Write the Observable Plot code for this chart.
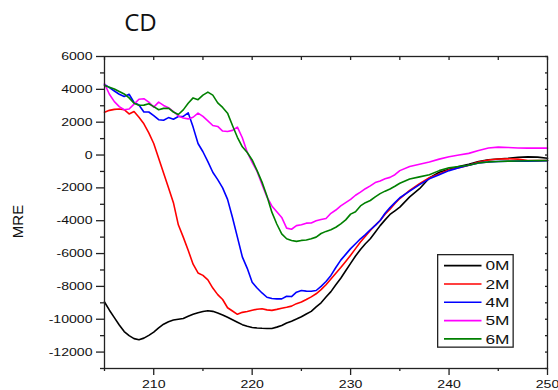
<!DOCTYPE html>
<html>
<head>
<meta charset="utf-8">
<script src="https://cdn.jsdelivr.net/npm/d3@7"></script>
<script src="https://cdn.jsdelivr.net/npm/@observablehq/plot@0.6"></script>
<style>
  html, body { margin: 0; padding: 0; background: #fff; }
  #wrap { position: relative; width: 558px; height: 390px; }
  #legend { position: absolute; left: 437px; top: 254px; }
</style>
</head>
<body>
<div id="wrap"></div>
<script>
// Wavelength (nm)
const wl = [205,205.5,206,206.5,207,207.5,208,208.5,209,209.5,
  210,210.5,211,211.5,212,212.5,213,213.5,214,214.5,
  215,215.5,216,216.5,217,217.5,218,218.5,219,219.5,
  220,220.5,221,221.5,222,222.5,223,223.5,224,224.5,
  225,225.5,226,226.5,227,227.5,228,228.5,229,229.5,
  230,230.5,231,231.5,232,232.5,233,233.5,234,234.5,
  235,236,237,238,239,240,241,242,243,244,
  245,246,247,248,249,250];

const mre0M = [-8950,-9450,-9900,-10350,-10750,-11000,-11180,-11250,-11150,-10980,
  -10780,-10530,-10300,-10150,-10050,-10000,-9950,-9820,-9700,-9600,
  -9530,-9480,-9520,-9620,-9740,-9880,-10030,-10180,-10330,-10430,
  -10500,-10530,-10550,-10560,-10560,-10480,-10380,-10230,-10120,-9990,
  -9850,-9680,-9520,-9250,-9000,-8650,-8320,-7900,-7500,-7050,
  -6600,-6150,-5750,-5400,-5100,-4700,-4300,-3950,-3620,-3400,
  -3170,-2550,-2050,-1400,-1050,-870,-700,-560,-400,-290,
  -240,-200,-140,-110,-130,-200];

const mre2M = [2610,2720,2780,2800,2760,2500,2650,2300,1900,1350,
  700,-200,-1100,-2000,-2900,-4250,-5000,-5800,-6650,-7180,
  -7330,-7600,-8100,-8500,-8800,-9300,-9500,-9700,-9580,-9530,
  -9450,-9390,-9360,-9430,-9460,-9400,-9330,-9270,-9200,-9050,
  -8950,-8800,-8640,-8450,-8200,-7900,-7550,-7200,-6850,-6480,
  -6100,-5700,-5300,-4950,-4600,-4280,-3990,-3600,-3300,-2950,
  -2650,-2150,-1750,-1380,-1150,-900,-780,-620,-420,-300,
  -240,-230,-250,-330,-340,-330];

const mre4M = [4300,4100,3900,3700,3560,3700,3200,3050,2620,2620,
  2400,2150,2120,2280,2180,2350,2350,2570,1700,700,
  200,-400,-1050,-1500,-2000,-2700,-3800,-5000,-6200,-6900,
  -7750,-8100,-8400,-8660,-8740,-8760,-8760,-8600,-8620,-8350,
  -8250,-8290,-8300,-8250,-8000,-7700,-7330,-6850,-6400,-6050,
  -5700,-5400,-5100,-4850,-4550,-4280,-3990,-3550,-3200,-2900,
  -2600,-2200,-1800,-1450,-1200,-950,-780,-620,-480,-420,
  -390,-380,-370,-370,-360,-340];

const mre5M = [4340,3700,3250,2950,2760,2800,3100,3400,3430,3220,
  2920,3220,3020,2880,2650,2380,2260,2200,2300,2550,
  2350,2080,1800,1740,1460,1430,1500,1700,1050,170,
  -450,-1000,-1800,-2550,-3100,-3450,-3800,-4450,-4520,-4300,
  -4250,-4150,-4140,-4000,-3930,-3870,-3550,-3350,-3100,-2900,
  -2700,-2450,-2260,-2050,-1880,-1680,-1580,-1450,-1360,-1200,
  -950,-700,-560,-430,-250,-100,0,100,280,430,
  480,460,430,420,420,420];

const mre6M = [4240,4130,4020,3870,3720,3480,3150,3030,3040,3120,
  2950,2760,2840,2850,2620,2470,2750,3150,3480,3370,
  3650,3830,3650,3180,2900,2550,1800,1080,500,150,
  -300,-950,-1650,-2500,-3480,-4200,-4800,-5100,-5200,-5260,
  -5200,-5170,-5100,-5000,-4780,-4650,-4550,-4400,-4190,-3950,
  -3600,-3450,-3100,-2900,-2770,-2550,-2350,-2200,-2070,-1900,
  -1720,-1460,-1330,-1200,-950,-780,-700,-620,-480,-420,
  -390,-370,-360,-350,-340,-330];

const seriesNames = ["0M", "2M", "4M", "5M", "6M"];
const seriesColors = ["#000000", "#ff0000", "#0000ff", "#ff00ff", "#008000"];

const xMajorTicks = [210, 220, 230, 240, 250];
const xMinorTicks = [205, 215, 225, 235, 245];
const xTopTicks = [205, 210, 215, 220, 225, 230, 235, 240, 245, 250];
const yMajorTicks = [-12000, -10000, -8000, -6000, -4000, -2000, 0, 2000, 4000, 6000];
const yMinorTicks = [-13000, -11000, -9000, -7000, -5000, -3000, -1000, 1000, 3000, 5000];
const yRightTicks = [-13000,-12000,-11000,-10000,-9000,-8000,-7000,-6000,-5000,-4000,-3000,-2000,-1000,0,1000,2000,3000,4000,5000,6000];

const titleText = "CD";
const yLabelText = "MRE";

const seriesValues = [mre0M, mre2M, mre4M, mre5M, mre6M];
const rows = seriesNames.flatMap((name, i) =>
  wl.map((w, j) => ({wl: w, mre: seriesValues[i][j], series: name})));

const axisColor = "#222";
const fmt = d => String(d);
const blank = () => "";

const chart = Plot.plot({
  width: 558,
  height: 390,
  marginLeft: 104,
  marginRight: 11,
  marginTop: 56,
  marginBottom: 22,
  x: {domain: [205, 250], label: null},
  y: {domain: [-13000, 6000], label: null},
  color: {domain: seriesNames, range: seriesColors},
  style: {fontFamily: "'Liberation Sans', Arial, sans-serif", fontSize: "11px", color: "#111", background: "#fff"},
  marks: [
    Plot.line(rows, {x: "wl", y: "mre", z: "series", stroke: "series", strokeWidth: 1.6}),
    Plot.frame({stroke: axisColor, strokeWidth: 1.3}),
    Plot.axisX(xMajorTicks, {anchor: "bottom", tickSize: 7, tickPadding: 5, tickFormat: fmt, stroke: axisColor, strokeWidth: 1.3}),
    Plot.axisX(xMinorTicks, {anchor: "bottom", tickSize: 3, tickFormat: blank, stroke: axisColor, strokeWidth: 1.3}),
    Plot.axisX(xTopTicks, {anchor: "top", tickSize: -3, tickFormat: blank, stroke: axisColor, strokeWidth: 1.3}),
    Plot.axisY(yMajorTicks, {anchor: "left", tickSize: 8, tickPadding: 4, tickFormat: fmt, stroke: axisColor, strokeWidth: 1.3}),
    Plot.axisY(yMinorTicks, {anchor: "left", tickSize: 4, tickFormat: blank, stroke: axisColor, strokeWidth: 1.3}),
    Plot.axisY(yRightTicks, {anchor: "right", tickSize: -3, tickFormat: blank, stroke: axisColor, strokeWidth: 1.3}),
    Plot.text([titleText], {text: d => d, frameAnchor: "top-left", dx: 36, dy: -33, fontSize: 24,
      fontFamily: "'Open Sans', sans-serif", textAnchor: "middle", lineAnchor: "middle", fill: "#111"}),
    Plot.text([yLabelText], {text: d => d, frameAnchor: "left", dx: -86, dy: 9, rotate: -90, fontSize: 15,
      textAnchor: "middle", lineAnchor: "middle", fill: "#111"})
  ]
});

const wrap = document.getElementById("wrap");
wrap.appendChild(chart);

// widen tick labels horizontally, as in the reference
d3.select(chart).selectAll('g[aria-label="x-axis tick label"] text, g[aria-label="y-axis tick label"] text')
  .each(function() {
    const t = this.textContent;
    if (!t) return;
    const len = this.getComputedTextLength();
    this.setAttribute("textLength", (len * 1.28).toFixed(2));
    this.setAttribute("lengthAdjust", "spacingAndGlyphs");
  });

// legend
const lg = d3.select(wrap).append("svg").attr("id", "legend")
  .attr("width", 77).attr("height", 94);
lg.append("rect").attr("x", 0.65).attr("y", 0.65).attr("width", 75.5).attr("height", 92.5)
  .attr("fill", "#fff").attr("stroke", axisColor).attr("stroke-width", 1.3);
seriesNames.forEach((name, i) => {
  const cy = 11.6 + i * 18.33;
  lg.append("line").attr("x1", 7).attr("x2", 44.5).attr("y1", cy).attr("y2", cy)
    .attr("stroke", seriesColors[i]).attr("stroke-width", 1.6);
  const t = lg.append("text").attr("x", 48.5).attr("y", cy).attr("dy", "0.36em")
    .attr("font-family", "'Liberation Sans', Arial, sans-serif").attr("font-size", 13.5)
    .attr("fill", "#111").text(name);
  const len = t.node().getComputedTextLength();
  t.attr("textLength", (len * 1.28).toFixed(2)).attr("lengthAdjust", "spacingAndGlyphs");
});
</script>
</body>
</html>
